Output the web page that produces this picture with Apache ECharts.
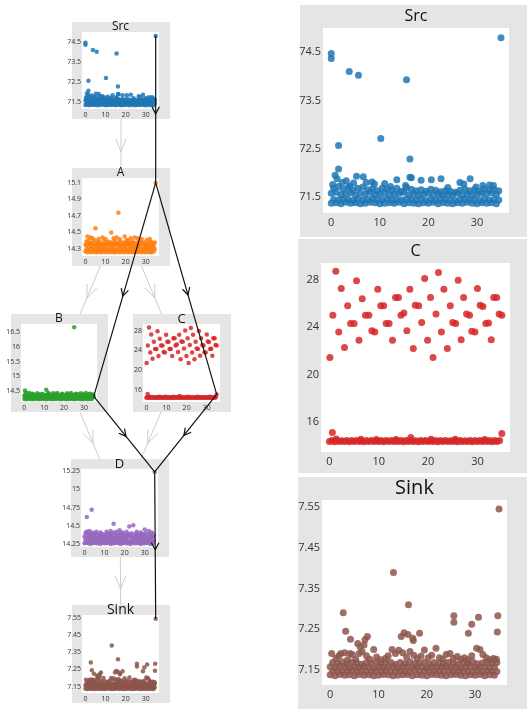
<!DOCTYPE html>
<html><head><meta charset="utf-8">
<script src="https://cdn.jsdelivr.net/npm/echarts@6/dist/echarts.min.js"></script>
<style>html,body{margin:0;padding:0;background:#fff}#c{width:527px;height:709px}</style>
</head><body><div id="c"></div><script>
// ---------- shared sample columns (time) ----------
const colsInt  = [0,1,2,3,4,5,6,7,8,9,10,11,12,13,14,15,16,17,18,19,20,21,22,23,24,25,26,27,28,29,30,31,32,33,34];
const colsHalf = [0.5,1.5,2.5,3.5,4.5,5.5,6.5,7.5,8.5,9.5,10.5,11.5,12.5,13.5,14.5,15.5,16.5,17.5,18.5,19.5,20.5,21.5,22.5,23.5,24.5,25.5,26.5,27.5,28.5,29.5,30.5,31.5,32.5,33.5,34.5];
const xTicks = [0,10,20,30];

// ---------- Src ----------
const srcRowA = [71.37,71.38,71.36,71.39,71.37,71.38,71.36,71.37,71.39,71.38,71.36,71.37,71.38,71.37,71.39,71.36,71.38,71.37,71.36,71.38,71.37,71.39,71.36,71.38,71.37,71.36,71.38,71.37,71.39,71.37,71.36,71.38,71.37,71.38,71.36];
const srcRowB = [71.45,71.44,71.46,71.45,71.43,71.46,71.44,71.45,71.47,71.44,71.45,71.46,71.43,71.45,71.44,71.46,71.45,71.44,71.46,71.43,71.45,71.44,71.46,71.45,71.44,71.43,71.45,71.46,71.44,71.45,71.43,71.46,71.44,71.45,71.44];
const srcRowC = [71.58,71.60,71.55,71.57,71.59,71.54,71.58,71.56,71.60,71.55,71.57,71.59,71.54,71.56,71.58,71.60,71.55,71.57,71.54,71.56,71.58,71.55,71.57,71.54,71.56,71.55,71.58,71.54,71.57,71.55,71.56,71.58,71.57,71.59,71.56];
const srcRowD = [71.68,71.72,71.66,71.70,71.64,71.68,71.71,71.65,71.67,71.63,71.69,71.66,71.64,71.68,71.62,71.70,71.66,71.63,71.65,71.62,71.66,71.64,71.61,71.63,71.62,71.60,71.64,71.66,71.63,71.65,71.62,71.67,71.64,71.66,71.63];
const srcUpper = [[0.3,71.76],[0.8,71.95],[1.2,71.88],[1.5,72.08],[2.3,71.80],[3.1,71.84],[4.6,71.79],[5.2,71.93],[6.6,71.92],[7.2,71.80],[8.4,71.81],[8.9,71.77],[11.0,71.78],[13.5,71.86],[15.3,71.74],[16.2,71.91],[16.5,71.90],[18.5,71.85],[20.6,71.86],[22.6,71.88],[26.5,71.80],[27.3,71.77],[28.6,71.88],[31.2,71.74],[32.6,71.75],[33.4,71.74],[12.2,71.72],[24.0,71.70],[29.8,71.71],[3.8,71.73]];
const srcOutliers = [[0,74.47],[0,74.37],[1.5,72.57],[3.7,74.1],[5.6,74.02],[10.2,72.71],[15.5,73.93],[16.2,72.29]];
const srcEnd = [34.95,74.8];
const srcYTicks = [71.5,72.5,73.5,74.5];

// ---------- A ----------
const aRowA = [14.27,14.26,14.27,14.26,14.27,14.26,14.26,14.27,14.26,14.27,14.26,14.27,14.26,14.27,14.26,14.26,14.27,14.26,14.27,14.26,14.27,14.26,14.27,14.26,14.26,14.27,14.26,14.27,14.26,14.27,14.26,14.27,14.26,14.26,14.27];
const aRowB = [14.30,14.29,14.31,14.30,14.29,14.31,14.30,14.30,14.29,14.31,14.30,14.29,14.31,14.30,14.29,14.30,14.31,14.30,14.29,14.31,14.30,14.29,14.30,14.31,14.30,14.29,14.31,14.30,14.29,14.30,14.31,14.30,14.29,14.31,14.30];
const aRowC = [14.35,14.34,14.36,14.33,14.35,14.34,14.36,14.34,14.33,14.35,14.34,14.36,14.33,14.35,14.34,14.35,14.36,14.34,14.33,14.35,14.34,14.36,14.33,14.35,14.34,14.33,14.35,14.34,14.36,14.33,14.35,14.34,14.33,14.35,14.34];
const aRowD = [14.39,14.40,14.37,14.38,14.41,14.37,14.39,14.38,14.36,14.40,14.37,14.39,14.38,14.37,14.40,14.38,14.36,14.39,14.37,14.38,14.40,14.36,14.38,14.39,14.37,14.38,14.36,14.39,14.37,14.38,14.36,14.37,14.39,14.37,14.38];
const aUpper = [[1,14.45],[2.5,14.44],[3.5,14.43],[5,14.55],[6.5,14.42],[8.5,14.44],[10,14.42],[12.8,14.5],[14,14.43],[15.5,14.44],[17,14.42],[19.5,14.45],[21,14.41],[22.5,14.43],[24.5,14.44],[26,14.43],[28,14.42],[30.5,14.41],[32,14.42]];
const aOutliers = [[16.4,14.74]];
const aEnd = [34.95,15.1];
const aYTicks = [14.3,14.5,14.7,14.9,15.1];

// ---------- B ----------
const bRowA = [14.24,14.23,14.25,14.24,14.23,14.24,14.25,14.23,14.24,14.25,14.24,14.23,14.24,14.25,14.23,14.24,14.24,14.25,14.23,14.24,14.25,14.23,14.24,14.24,14.25,14.23,14.24,14.25,14.24,14.23,14.24,14.25,14.23,14.24,14.24];
const bRowB = [14.29,14.30,14.28,14.29,14.30,14.28,14.29,14.29,14.30,14.28,14.29,14.30,14.29,14.28,14.29,14.30,14.29,14.28,14.29,14.30,14.28,14.29,14.30,14.29,14.28,14.29,14.30,14.28,14.29,14.29,14.30,14.28,14.29,14.30,14.29];
const bRowC = [14.35,14.34,14.33,14.35,14.34,14.36,14.33,14.34,14.35,14.34,14.33,14.36,14.34,14.35,14.33,14.34,14.36,14.34,14.33,14.35,14.34,14.33,14.35,14.34,14.36,14.33,14.34,14.35,14.34,14.33,14.35,14.34,14.36,14.34,14.33];
const bRowD = [14.39,14.38,14.40,14.37,14.39,14.38,14.37,14.40,14.38,14.39,14.37,14.38,14.40,14.37,14.39,14.38,14.40,14.37,14.38,14.39,14.37,14.38,14.40,14.38,14.37,14.39,14.38,14.40,14.37,14.39,14.38,14.37,14.40,14.38,14.39];
const bUpper = [[0.3,14.53],[0.8,14.46],[2.5,14.44],[4,14.42],[6.5,14.43],[9,14.41],[11,14.55],[12,14.45],[14.5,14.43],[16.5,14.44],[19,14.42],[21.5,14.43],[23.5,14.44],[26,14.42],[28.5,14.43],[31,14.44],[33,14.42]];
const bOutliers = [[25.1,16.65]];
const bEnd = [34.95,14.33];
const bYTicks = [14.5,15,15.5,16,16.5];

// ---------- C ----------
const cRowA = [14.38,14.37,14.39,14.38,14.37,14.38,14.39,14.37,14.38,14.38,14.39,14.37,14.38,14.39,14.38,14.37,14.38,14.39,14.37,14.38,14.38,14.39,14.37,14.38,14.39,14.38,14.37,14.38,14.39,14.37,14.38,14.38,14.39,14.37,14.38];
const cRowB = [14.46,14.47,14.45,14.46,14.47,14.46,14.45,14.47,14.46,14.45,14.46,14.47,14.46,14.45,14.47,14.46,14.46,14.45,14.47,14.46,14.45,14.46,14.47,14.46,14.45,14.46,14.47,14.45,14.46,14.47,14.46,14.45,14.46,14.47,14.46];
const cNear = [[0.6,15.15],[16.5,14.72],[1.4,14.6],[6.4,14.58],[20.6,14.58],[13.5,14.56],[25.5,14.57],[31.5,14.56],[9.5,14.55]];
const cUpper = [[0.1,21.45],[0.7,25.0],[1.3,28.7],[1.9,23.6],[2.4,27.25],[3.05,22.3],[3.7,25.8],[4.3,24.3],[5.0,24.3],[5.5,27.9],[6.0,22.9],[6.65,26.4],[7.3,25.0],[8.0,25.0],[8.6,23.7],[9.2,23.6],[9.8,27.2],[10.4,25.8],[11.0,25.8],[11.5,24.3],[12.1,24.3],[12.8,22.9],[13.4,26.5],[14.0,26.5],[14.5,25.0],[15.1,25.2],[15.7,23.7],[16.3,27.2],[17.0,22.2],[17.4,25.85],[18.1,25.8],[18.7,24.4],[19.3,28.1],[19.9,22.9],[20.5,26.5],[21.0,21.45],[21.6,25.1],[22.1,28.6],[22.7,23.6],[23.2,27.2],[23.9,22.2],[24.5,25.8],[25.0,24.4],[25.6,24.3],[26.1,27.95],[26.7,22.95],[27.2,26.5],[27.8,25.1],[28.4,25.0],[28.85,23.65],[29.5,23.6],[30.0,27.25],[30.55,25.85],[31.1,25.75],[31.7,24.3],[32.25,24.35],[32.8,22.95],[33.3,26.5],[33.9,26.5],[34.4,25.1],[34.95,25.0]];
const cEnd = [34.95,15.05];
const cYTicks = [16,20,24,28];

// ---------- D ----------
const dRowA = [14.26,14.27,14.26,14.25,14.26,14.27,14.26,14.26,14.25,14.27,14.26,14.26,14.27,14.25,14.26,14.26,14.27,14.26,14.25,14.26,14.27,14.26,14.26,14.25,14.27,14.26,14.26,14.27,14.25,14.26,14.26,14.27,14.26,14.25,14.26];
const dRowB = [14.30,14.31,14.29,14.30,14.31,14.30,14.29,14.31,14.30,14.30,14.29,14.31,14.30,14.31,14.29,14.30,14.30,14.31,14.29,14.30,14.31,14.30,14.29,14.30,14.31,14.30,14.29,14.31,14.30,14.30,14.29,14.31,14.30,14.29,14.30];
const dRowC = [14.35,14.34,14.36,14.33,14.34,14.35,14.33,14.34,14.36,14.34,14.33,14.35,14.34,14.36,14.35,14.34,14.33,14.36,14.34,14.35,14.33,14.34,14.36,14.35,14.34,14.33,14.35,14.34,14.36,14.34,14.35,14.33,14.34,14.35,14.34];
const dRowD = [14.40,14.41,14.38,14.39,14.37,14.40,14.38,14.37,14.39,14.38,14.37,14.40,14.38,14.39,14.41,14.38,14.37,14.40,14.39,14.38,14.37,14.39,14.38,14.40,14.37,14.39,14.38,14.37,14.39,14.38,14.40,14.37,14.38,14.39,14.37];
const dUpper = [[1,14.42],[2.5,14.43],[4,14.41],[6,14.42],[8,14.41],[11,14.42],[13,14.43],[16,14.42],[17.5,14.44],[19,14.41],[21,14.42],[26,14.42],[28,14.41],[30,14.45],[32,14.43],[33.5,14.41]];
const dOutliers = [[1.2,14.62],[3.6,14.72],[14.5,14.53],[22.3,14.49],[24.3,14.51]];
const dEnd = [34.95,15.24];
const dYTicks = [14.25,14.5,14.75,15,15.25];

// ---------- Sink ----------
const sinkRowA = [7.138,7.136,7.139,7.137,7.138,7.136,7.139,7.137,7.138,7.136,7.137,7.139,7.138,7.136,7.137,7.138,7.139,7.136,7.138,7.137,7.136,7.139,7.138,7.137,7.136,7.138,7.139,7.137,7.136,7.138,7.137,7.139,7.136,7.138,7.137];
const sinkRowB = [7.147,7.148,7.146,7.147,7.149,7.146,7.148,7.147,7.146,7.148,7.147,7.149,7.146,7.147,7.148,7.146,7.147,7.149,7.146,7.148,7.147,7.146,7.148,7.147,7.149,7.146,7.147,7.148,7.146,7.147,7.149,7.146,7.148,7.147,7.146];
const sinkRowC = [7.158,7.156,7.159,7.157,7.155,7.158,7.156,7.159,7.157,7.155,7.158,7.156,7.157,7.159,7.155,7.158,7.157,7.156,7.159,7.157,7.155,7.158,7.156,7.157,7.159,7.156,7.158,7.155,7.157,7.159,7.156,7.158,7.157,7.155,7.158];
const sinkRowD = [7.168,7.166,7.170,7.165,7.169,7.167,7.164,7.168,7.166,7.170,7.165,7.167,7.169,7.164,7.168,7.166,7.170,7.165,7.167,7.169,7.164,7.168,7.166,7.165,7.169,7.167,7.164,7.168,7.166,7.170,7.165,7.167,7.169,7.166,7.168];
const sinkUpper = [[0.3,7.19],[1.2,7.178],[1.8,7.185],[2.2,7.19],[3.0,7.192],[3.6,7.175],[4.1,7.19],[4.6,7.188],[5.3,7.176],[6.0,7.19],[6.6,7.195],[7.5,7.185],[8.2,7.176],[9.0,7.2],[9.6,7.182],[10.5,7.175],[11.4,7.178],[12.0,7.185],[12.8,7.2],[13.5,7.19],[14.2,7.198],[15.0,7.192],[15.8,7.182],[16.5,7.195],[17.3,7.186],[18.0,7.178],[18.8,7.184],[19.5,7.199],[20.3,7.18],[21.0,7.186],[21.9,7.203],[22.6,7.18],[23.3,7.177],[24.0,7.188],[24.8,7.19],[25.5,7.178],[26.3,7.183],[27.0,7.176],[27.8,7.18],[28.5,7.175],[29.3,7.185],[30.3,7.203],[31.0,7.2],[31.6,7.188],[32.3,7.18],[33.0,7.175],[33.8,7.178],[34.4,7.176]];
const sinkOutliers = [[13.1,7.389],[16.2,7.31],[2.7,7.29],[25.6,7.283],[25.6,7.267],[30.7,7.279],[34.7,7.283],[29.3,7.262],[3.2,7.245],[34.6,7.243],[28.6,7.24],[18.5,7.24],[4.2,7.225],[14.7,7.232],[15.3,7.241],[16.1,7.237],[17.1,7.228],[17.2,7.222],[5.7,7.215],[7.7,7.232],[7.2,7.224],[7.0,7.211],[6.2,7.207]];
const sinkEnd = [34.95,7.545];
const sinkYTicks = [7.15,7.25,7.35,7.45,7.55];

// ---------- graph structure ----------
const nodeNames = ['Src','A','B','C','D','Sink'];
const dagEdges = [['Src','A'],['A','B'],['A','C'],['B','D'],['C','D'],['D','Sink']];
const criticalPath = [['Src','A'],['A','B'],['A','C'],['B','D'],['C','D'],['D','Sink']];

// ---------- assemble ----------
const zip = (xs, ys) => xs.map((x, i) => [x, ys[i]]);
const nodeData = {
  Src: [].concat(zip(colsInt, srcRowA), zip(colsHalf, srcRowB), zip(colsInt, srcRowC), zip(colsHalf, srcRowD), srcUpper, srcOutliers, [srcEnd]),
  A: [].concat(zip(colsInt, aRowA), zip(colsHalf, aRowB), zip(colsInt, aRowC), zip(colsHalf, aRowD), aUpper, aOutliers, [aEnd]),
  B: [].concat(zip(colsInt, bRowA), zip(colsHalf, bRowB), zip(colsInt, bRowC), zip(colsHalf, bRowD), bUpper, bOutliers, [bEnd]),
  C: [].concat(zip(colsInt, cRowA), zip(colsHalf, cRowB), cNear, cUpper, [cEnd]),
  D: [].concat(zip(colsInt, dRowA), zip(colsHalf, dRowB), zip(colsInt, dRowC), zip(colsHalf, dRowD), dUpper, dOutliers, [dEnd]),
  Sink: [].concat(zip(colsInt, sinkRowA), zip(colsHalf, sinkRowB), zip(colsInt, sinkRowC), zip(colsHalf, sinkRowD), sinkUpper, sinkOutliers, [sinkEnd])
};
const nodeEnd = {Src: srcEnd, A: aEnd, B: bEnd, C: cEnd, D: dEnd, Sink: sinkEnd};
const nodeYTicks = {Src: srcYTicks, A: aYTicks, B: bYTicks, C: cYTicks, D: dYTicks, Sink: sinkYTicks};
const nodeYRange = {Src: [71.17, 75.0], A: [14.215, 15.16], B: [14.14, 16.76], C: [13.5, 29.4], D: [14.21, 15.28], Sink: [7.113, 7.567]};
const xRange = [-1.7, 36.6];
const nodeColor = {Src: '#1f77b4', A: '#ff7f0e', B: '#2ca02c', C: '#d62728', D: '#9467bd', Sink: '#8c564b'};

// ---------- layout ----------
const FONT = '"Open Sans", "Noto Sans", "DejaVu Sans", sans-serif';
const smallBoxes = {Src: [72,22,98,97], A: [72,168,98,98], B: [11,314,97,98], C: [133,314,98,98], D: [71,459,98,98], Sink: [72,605,98,98]};
const smallTitleSize = {Src: 12, A: 12, B: 12, C: 13, D: 13, Sink: 14};
const panels = [];
nodeNames.forEach(n => {
  const b = smallBoxes[n];
  panels.push({node: n, box: b, plot: [b[0]+10, b[1]+10, b[2]-21, b[3]-20], small: true, titleSize: smallTitleSize[n]});
});
panels.push({node: 'Src', box: [300,5,227,232], plot: [323,28,186,185], small: false, titleSize: 16});
panels.push({node: 'C', box: [298,239,229,234], plot: [321,263,189,189], small: false, titleSize: 16});
panels.push({node: 'Sink', box: [298,477,229,232], plot: [322,500,185,185], small: false, titleSize: 20});

const grids = [], xAxes = [], yAxes = [], series = [];
panels.forEach((p, i) => {
  const fs = p.small ? 7 : 11;
  grids.push({left: p.plot[0], top: p.plot[1], width: p.plot[2], height: p.plot[3], show: true,
    backgroundColor: '#ffffff', borderWidth: 0, containLabel: false, outerBoundsMode: 'none'});
  xAxes.push({gridIndex: i, type: 'value', min: xRange[0], max: xRange[1],
    axisLine: {show: false}, axisTick: {show: false}, splitLine: {show: false},
    axisLabel: {customValues: xTicks, fontSize: fs, color: '#333', fontFamily: FONT, margin: p.small ? 2 : 4}});
  yAxes.push({gridIndex: i, type: 'value', min: nodeYRange[p.node][0], max: nodeYRange[p.node][1],
    axisLine: {show: false}, axisTick: {show: false}, splitLine: {show: false},
    axisLabel: {customValues: nodeYTicks[p.node], fontSize: fs, color: '#333', fontFamily: FONT, margin: p.small ? 1 : 2}});
  series.push({type: 'scatter', xAxisIndex: i, yAxisIndex: i, data: nodeData[p.node],
    symbolSize: p.small ? 4.5 : 7, silent: true,
    itemStyle: {color: nodeColor[p.node], opacity: 0.85}});
});

const chart = echarts.init(document.getElementById('c'), null, {renderer: 'canvas'});
chart.setOption({animation: false, backgroundColor: '#ffffff', grid: grids, xAxis: xAxes, yAxis: yAxes, series: series});

// ---------- decorations ----------
function chevron(a, b, frac, len, deg) {
  const tip = [a[0] + (b[0]-a[0])*frac, a[1] + (b[1]-a[1])*frac];
  const dx = b[0]-a[0], dy = b[1]-a[1], L = Math.hypot(dx, dy);
  const ux = dx/L, uy = dy/L, t = deg*Math.PI/180;
  const r = (c, s) => [tip[0] - len*(ux*c - uy*s), tip[1] - len*(uy*c + ux*s)];
  return [r(Math.cos(t), Math.sin(t)), tip, r(Math.cos(t), -Math.sin(t))];
}
const gfx = [];
const boxCenter = n => { const b = smallBoxes[n]; return [b[0]+b[2]/2, b[1]+b[3]/2]; };
dagEdges.forEach(([s, t]) => {
  const a = boxCenter(s), b = boxCenter(t);
  gfx.push({type: 'line', z: -20, silent: true, shape: {x1: a[0], y1: a[1], x2: b[0], y2: b[1]}, style: {stroke: '#cdcdcd', lineWidth: 1}});
  gfx.push({type: 'polyline', z: -20, silent: true, shape: {points: chevron(a, b, 0.555, 14, 22)}, style: {stroke: '#cdcdcd', lineWidth: 1, fill: 'none'}});
});
panels.forEach(p => {
  gfx.push({type: 'rect', z: -10, silent: true, shape: {x: p.box[0], y: p.box[1], width: p.box[2], height: p.box[3]}, style: {fill: '#e5e5e5'}});
  gfx.push({type: 'text', z: 5, silent: true, x: p.plot[0] + p.plot[2]/2, y: p.plot[1] - (p.small ? 5 : 12),
    style: {text: p.node, fontSize: p.titleSize, fontFamily: FONT, fill: '#111', align: 'center', verticalAlign: 'middle', textAlign: 'center', textVerticalAlign: 'middle'}});
});
const smallIndex = {}; panels.forEach((p, i) => { if (p.small) smallIndex[p.node] = i; });
const endPx = n => chart.convertToPixel({gridIndex: smallIndex[n]}, nodeEnd[n]);
criticalPath.forEach(([s, t]) => {
  const a = endPx(s), b = endPx(t);
  gfx.push({type: 'line', z: 100, silent: true, shape: {x1: a[0], y1: a[1], x2: b[0], y2: b[1]}, style: {stroke: '#111', lineWidth: 1.2}});
  gfx.push({type: 'polyline', z: 100, silent: true, shape: {points: chevron(a, b, 0.53, 8, 28)}, style: {stroke: '#111', lineWidth: 1.2, fill: 'none'}});
});
chart.setOption({graphic: {elements: gfx}});
</script></body></html>
